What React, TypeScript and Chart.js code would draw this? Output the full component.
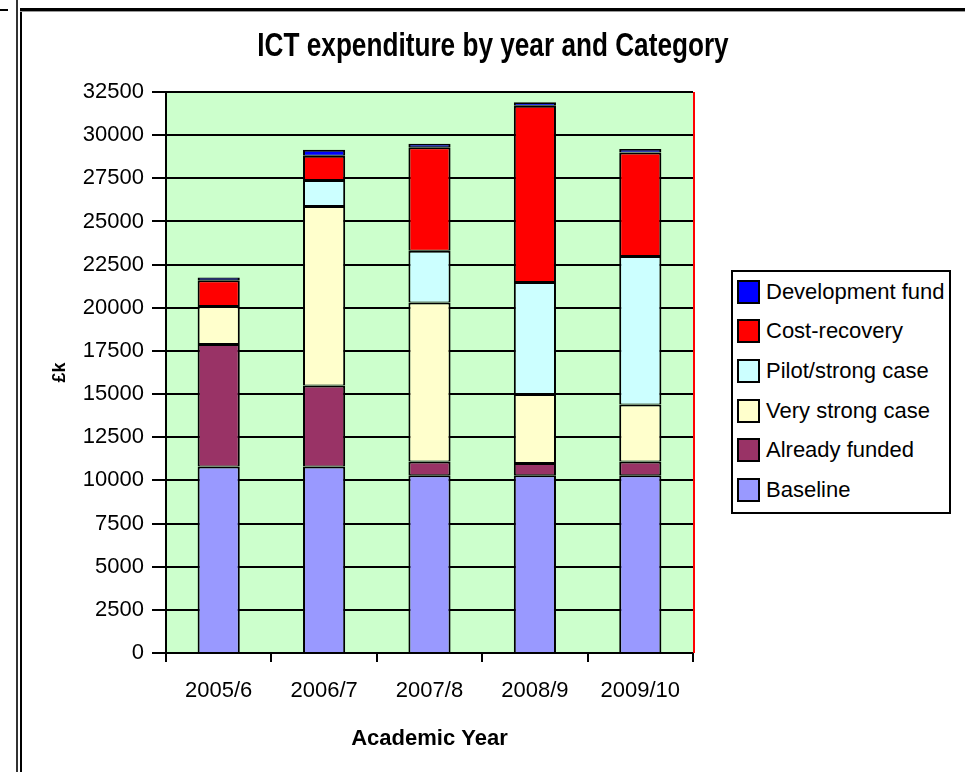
import React, { useEffect, useRef } from 'react';
import { Chart, registerables } from 'chart.js';

Chart.register(...registerables);

const categories = ['2005/6', '2006/7', '2007/8', '2008/9', '2009/10'];
const baseline = [10800, 10800, 10300, 10300, 10300];
const alreadyFunded = [7100, 4700, 800, 700, 800];
const veryStrong = [2200, 10400, 9200, 4000, 3300];
const pilotStrong = [0, 1500, 3000, 6500, 8600];
const costRecovery = [1500, 1400, 6000, 10200, 6000];
const developmentFund = [150, 350, 200, 200, 200];

const seriesNames = ['Baseline', 'Already funded', 'Very strong case', 'Pilot/strong case', 'Cost-recovery', 'Development fund'];
const seriesColors = ['#9999FF', '#993366', '#FFFFCC', '#CCFFFF', '#FF0000', '#0000FF'];

const chartTitle = 'ICT expenditure by year and Category';
const xTitle = 'Academic Year';
const yTitle = '£k';

const yMin = 0;
const yMax = 32500;
const yStep = 2500;

const FONT = '"Liberation Sans", Arial, sans-serif';

const plotDecor = {
  id: 'plotDecor',
  beforeDraw(chart: any) {
    const { ctx, chartArea: a } = chart;
    ctx.save();
    ctx.fillStyle = '#CCFFCC';
    ctx.fillRect(a.left, a.top, a.right - a.left, a.bottom - a.top);
    ctx.restore();
  },
  afterDraw(chart: any) {
    const { ctx, chartArea: a } = chart;
    ctx.save();
    ctx.strokeStyle = '#FF0000';
    ctx.lineWidth = 2;
    ctx.beginPath();
    ctx.moveTo(a.right + 1, a.top);
    ctx.lineTo(a.right + 1, a.bottom);
    ctx.stroke();
    ctx.restore();
  },
};

export default function App() {
  const ref = useRef<HTMLCanvasElement>(null);

  useEffect(() => {
    const values = [baseline, alreadyFunded, veryStrong, pilotStrong, costRecovery, developmentFund];
    const chart = new Chart(ref.current as HTMLCanvasElement, {
      type: 'bar',
      data: {
        labels: categories,
        datasets: seriesNames.map((name, i) => ({
          label: name,
          data: values[i],
          backgroundColor: seriesColors[i],
          borderColor: '#000000',
          borderWidth: { top: 2, left: 2, right: 2, bottom: i === 0 ? 0 : 1 },
          borderSkipped: false,
          barPercentage: 0.4,
          categoryPercentage: 1,
        })),
      },
      options: {
        responsive: false,
        animation: false,
        devicePixelRatio: 1,
        layout: { padding: { left: 40, right: 272, top: 92, bottom: 20 } },
        font: { family: FONT },
        plugins: {
          legend: { display: false },
          tooltip: { enabled: false },
          title: { display: false },
        },
        scales: {
          x: {
            stacked: true,
            offset: true,
            grid: {
              display: true,
              offset: true,
              drawOnChartArea: false,
              drawTicks: true,
              tickLength: 9,
              color: (c: any) => (c.index >= categories.length ? 'rgba(0,0,0,0)' : '#000'),
              lineWidth: 2,
            },
            border: { display: true, color: '#000', width: 2 },
            ticks: { color: '#000', font: { family: FONT, size: 22 }, padding: 16, maxRotation: 0 },
            title: { display: true, text: xTitle, color: '#000', font: { family: FONT, size: 22, weight: 'bold', lineHeight: 1.2 }, padding: { top: 0, bottom: 0 } },
            afterFit: (s: any) => { s.height = 99; },
          },
          y: {
            stacked: true,
            min: yMin,
            max: yMax,
            ticks: { stepSize: yStep, color: '#000', font: { family: FONT, size: 22 }, padding: 8, callback: (v: any) => String(v) },
            grid: { color: '#000', lineWidth: 2, tickLength: 14 },
            border: { color: '#000', width: 2 },
            title: { display: true, text: yTitle, color: '#000', font: { family: FONT, size: 18, weight: 'bold', lineHeight: 1.2 }, padding: { top: 9, bottom: 0 } },
            afterFit: (s: any) => { s.width = 126; },
          },
        },
      } as any,
      plugins: [plotDecor],
    });
    return () => chart.destroy();
  }, []);

  const legendOrder = seriesNames.map((n, i) => ({ name: n, color: seriesColors[i] })).reverse();

  return (
    <div style={{ position: 'absolute', left: 0, top: 0, width: 965, height: 772, background: '#fff', overflow: 'hidden', fontFamily: FONT }}>
      <div style={{ position: 'absolute', left: 0, top: 9, width: 8, height: 2, background: '#000' }} />
      <div style={{ position: 'absolute', left: 16, top: 0, width: 2, height: 772, background: '#333' }} />
      <div style={{ position: 'absolute', left: 20, top: 9, width: 2, height: 763, background: '#000' }} />
      <div style={{ position: 'absolute', left: 20, top: 8, width: 945, height: 3, background: '#000', borderBottom: '1px solid #999' }} />
      <canvas ref={ref} width={965} height={772} style={{ position: 'absolute', left: 0, top: 0, width: 965, height: 772 }} />
      <div
        style={{
          position: 'absolute',
          left: 493,
          top: 24,
          transform: 'translateX(-50%) scaleX(0.77)',
          fontSize: 34,
          fontWeight: 'bold',
          lineHeight: '40px',
          whiteSpace: 'nowrap',
          color: '#000',
        }}
      >
        {chartTitle}
      </div>
      <div style={{ position: 'absolute', left: 731, top: 270, width: 220, height: 244, boxSizing: 'border-box', border: '2px solid #000', background: '#fff' }}>
        {legendOrder.map((it) => (
          <div key={it.name} style={{ display: 'flex', alignItems: 'center', height: 39.6 }}>
            <div style={{ width: 23, height: 24, boxSizing: 'border-box', border: '2px solid #000', background: it.color, marginLeft: 4, marginRight: 6 }} />
            <span style={{ fontSize: 22, color: '#000', whiteSpace: 'nowrap' }}>{it.name}</span>
          </div>
        ))}
      </div>
    </div>
  );
}
